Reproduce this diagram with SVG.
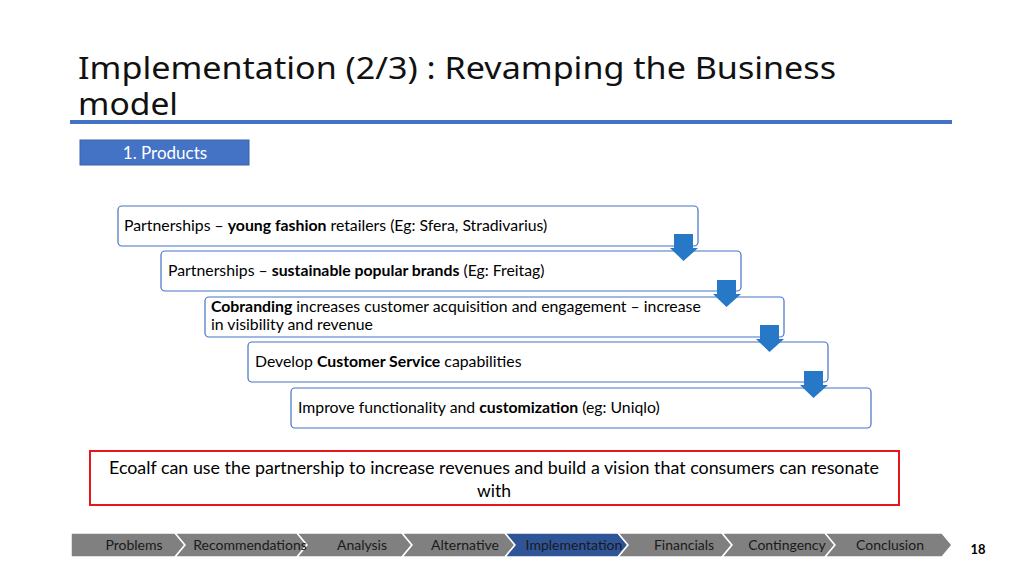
<svg xmlns="http://www.w3.org/2000/svg" width="1024" height="575" viewBox="0 0 1024 575">
<style>
.title{font-family:"Noto Sans","Open Sans",sans-serif;font-size:31px;fill:#111}
.box{fill:#fff;stroke:#4472C4;stroke-width:1.2}
.bt{font-family:Lato,"Liberation Sans",sans-serif;font-size:15.8px;fill:#000}
.b{font-weight:bold}
.arrow{fill:#2878C8}
.seg{fill:#808080;stroke:#fff;stroke-width:1.5}
.cur{fill:#2F5597}
.nav{font-family:Lato,"Liberation Sans",sans-serif;font-size:14px;fill:#1a1a1a;text-anchor:middle}
</style>
<rect width="1024" height="575" fill="#fff"/>
<g id="title">
<text class="title" x="78" y="79" textLength="758" lengthAdjust="spacingAndGlyphs">Implementation (2/3) : Revamping the Business</text>
<text class="title" x="78" y="115" textLength="100" lengthAdjust="spacingAndGlyphs">model</text>
<rect x="70" y="120" width="882" height="4" fill="#4472C4"/>
</g>
<g id="products">
<rect x="80" y="140" width="169" height="25" fill="#4472C4" stroke="#3A62A8" stroke-width="1"/>
<text x="165" y="159" font-family="Lato,'Liberation Sans',sans-serif" font-size="17" fill="#fff" text-anchor="middle">1. Products</text>
</g>
<g id="node1">
<rect class="box" x="118" y="206" width="580" height="40" rx="4"/>
<text class="bt" x="124" y="231">Partnerships – <tspan class="b">young fashion</tspan> retailers (Eg: Sfera, Stradivarius)</text>
</g>
<g id="node2">
<rect class="box" x="161" y="251" width="580" height="40" rx="4"/>
<text class="bt" x="168" y="276">Partnerships – <tspan class="b">sustainable popular brands</tspan> (Eg: Freitag)</text>
</g>
<g id="node3">
<rect class="box" x="205" y="297" width="579" height="40" rx="4"/>
<text class="bt" x="211" y="312"><tspan class="b">Cobranding</tspan> increases customer acquisition and engagement – increase</text>
<text class="bt" x="211" y="330">in visibility and revenue</text>
</g>
<g id="node4">
<rect class="box" x="248" y="342" width="580" height="40" rx="4"/>
<text class="bt" x="255" y="367">Develop <tspan class="b">Customer Service</tspan> capabilities</text>
</g>
<g id="node5">
<rect class="box" x="291" y="388" width="580" height="40" rx="4"/>
<text class="bt" x="298" y="413">Improve functionality and <tspan class="b">customization</tspan> (eg: Uniqlo)</text>
</g>
<g id="connectors">
<path class="arrow" d="M674,234 H693 V248 H698 L683.5,261 L670,248 H674 Z"/>
<path class="arrow" d="M717,280 H736 V294 H741 L726.5,307 L713,294 H717 Z"/>
<path class="arrow" d="M760,325 H779 V339 H784 L769.5,352 L756,339 H760 Z"/>
<path class="arrow" d="M804,371 H823 V385 H828 L813.5,398 L800,385 H804 Z"/>
</g>
<g id="note">
<rect x="90" y="451" width="809" height="54" fill="#fff" stroke="#E8161B" stroke-width="2"/>
<text x="494" y="474" font-family="Lato,'Liberation Sans',sans-serif" font-size="17.5" fill="#000" text-anchor="middle" textLength="770" lengthAdjust="spacingAndGlyphs">Ecoalf can use the partnership to increase revenues and build a vision that consumers can resonate</text>
<text x="494" y="497" font-family="Lato,'Liberation Sans',sans-serif" font-size="17.5" fill="#000" text-anchor="middle">with</text>
</g>
<g id="nav">
<polygon class="seg" points="71,533 175,533 185,545 175,557 71,557"/>
<polygon class="seg" points="175,533 297,533 307,545 297,557 175,557 185,545"/>
<polygon class="seg" points="297,533 402,533 412,545 402,557 297,557 307,545"/>
<polygon class="seg" points="402,533 505,533 515,545 505,557 402,557 412,545"/>
<polygon class="seg cur" points="505,533 618,533 628,545 618,557 505,557 515,545"/>
<polygon class="seg" points="618,533 722,533 732,545 722,557 618,557 628,545"/>
<polygon class="seg" points="722,533 825,533 835,545 825,557 722,557 732,545"/>
<polygon class="seg" points="825,533 942,533 952,545 942,557 825,557 835,545"/>
<text class="nav" x="134" y="550">Problems</text>
<text class="nav" x="250" y="550">Recommendations</text>
<text class="nav" x="362" y="550">Analysis</text>
<text class="nav" x="465" y="550">Alternative</text>
<text class="nav" x="574" y="550">Implementation</text>
<text class="nav" x="684" y="550">Financials</text>
<text class="nav" x="787" y="550">Contingency</text>
<text class="nav" x="890" y="550">Conclusion</text>
</g>
<text x="978" y="554" font-family="Lato,'Liberation Sans',sans-serif" font-size="13" font-weight="bold" fill="#000" text-anchor="middle">18</text>
</svg>
